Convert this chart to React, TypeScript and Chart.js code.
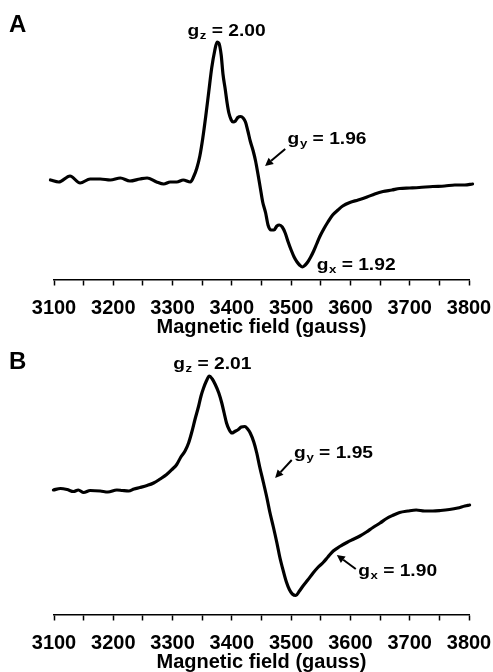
import React, { useEffect, useRef } from "react";
import { Chart, registerables } from "chart.js";

Chart.register(...registerables);

// ---- Data (magnetic field in gauss, EPR derivative signal in arbitrary units) ----
const fieldA = [3094, 3108, 3127, 3144, 3161, 3178, 3195, 3212, 3228, 3245, 3257, 3273, 3285, 3296, 3307, 3318, 3330, 3336, 3341, 3346, 3351, 3356, 3361, 3366, 3371, 3375, 3378, 3382, 3385, 3389, 3392, 3395, 3399, 3402, 3406, 3410, 3415, 3419, 3423, 3427, 3431, 3436, 3440, 3444, 3448, 3452, 3457, 3461, 3466, 3471, 3476, 3480, 3485, 3490, 3495, 3500, 3505, 3510, 3515, 3519, 3523, 3528, 3533, 3538, 3543, 3548, 3555, 3562, 3570, 3579, 3587, 3599, 3613, 3628, 3641, 3655, 3670, 3683, 3700, 3716, 3739, 3759, 3776, 3793, 3806];
const signalA = [0, -2, 4, -3, 1, 1, 0, 2, -1, 1, 2, -2, -4, -2, -2, 0, -2, 4, 12, 24, 42, 64, 88, 112, 129, 138, 137, 125, 106, 90, 77, 67, 60, 58, 59, 62.5, 63.5, 62, 58, 49, 39, 29, 19, 6, -8, -22, -33, -45, -50, -50, -46, -45, -47, -53, -62, -70, -77, -82, -85.5, -87, -85.5, -82, -77, -71, -64, -57, -49, -42, -35, -30, -26, -22.5, -20, -17, -14, -11.5, -10, -8.5, -8, -7.5, -6.5, -6, -5, -5, -4];

const fieldB = [3099, 3111, 3122, 3133, 3141, 3150, 3161, 3178, 3191, 3206, 3215, 3226, 3235, 3245, 3257, 3268, 3279, 3290, 3299, 3307, 3314, 3321, 3327, 3332, 3338, 3344, 3348, 3352, 3357, 3362, 3367, 3372, 3378, 3383, 3387, 3391, 3395, 3400, 3405, 3411, 3416, 3422, 3426, 3431, 3437, 3442, 3447, 3453, 3459, 3464, 3470, 3476, 3481, 3487, 3492, 3497, 3502, 3508, 3514, 3520, 3528, 3537, 3545, 3554, 3562, 3571, 3582, 3594, 3604, 3616, 3627, 3638, 3650, 3661, 3671, 3683, 3697, 3711, 3725, 3739, 3752, 3767, 3781, 3793, 3801];
const signalB = [0, 1.5, 0.5, -1.5, 0, -2.5, -0.5, -1, -2, 0, -0.5, -1, 1, 2.5, 4.5, 7, 11, 15.5, 20.5, 25.5, 33, 39, 47, 57, 71, 84, 94, 101.5, 109, 114, 111, 105.5, 97, 87, 77, 67, 61, 57, 58.5, 60.5, 63, 63.5, 61.5, 57, 48, 37, 23, 8, -7.5, -22, -37, -53, -67.5, -81.5, -92, -99.5, -104, -105.5, -101, -96, -90, -83, -77.5, -72.5, -67, -61, -56.5, -52.5, -49.5, -46, -42, -37.5, -33, -28.5, -25.5, -22.5, -21, -20, -21, -21, -20.5, -19.5, -18, -16, -15];

const tickValues = [3100, 3150, 3200, 3250, 3300, 3350, 3400, 3450, 3500, 3550, 3600, 3650, 3700, 3750, 3800];
const tickLabels = ["3100", "", "3200", "", "3300", "", "3400", "", "3500", "", "3600", "", "3700", "", "3800"];
const axisTitle = "Magnetic field (gauss)";

// g-value annotations: subscript, value, anchor (field, signal)
const gSubsA = ["z", "y", "x"];
const gValuesA = ["2.00", "1.96", "1.92"];
const gFieldA = [3325, 3494, 3543];
const gSignalA = [144, 36, -90];
const arrowsA = [{ from: [3490, 31], to: [3456, 14] }];

const gSubsB = ["z", "y", "x"];
const gValuesB = ["2.01", "1.95", "1.90"];
const gFieldB = [3301, 3505, 3613];
const gSignalB = [121, 32, -86];
const arrowsB = [
  { from: [3501, 30], to: [3473, 12] },
  { from: [3609, -79], to: [3577, -65] },
];

const FONT = '"Liberation Sans", Arial, Helvetica, sans-serif';

function drawArrow(ctx: CanvasRenderingContext2D, x1: number, y1: number, x2: number, y2: number) {
  const ang = Math.atan2(y2 - y1, x2 - x1);
  const L = 8;
  const W = 4;
  const bx = x2 - L * Math.cos(ang);
  const by = y2 - L * Math.sin(ang);
  ctx.save();
  ctx.strokeStyle = "#000";
  ctx.fillStyle = "#000";
  ctx.lineWidth = 2;
  ctx.beginPath();
  ctx.moveTo(x1, y1);
  ctx.lineTo(bx, by);
  ctx.stroke();
  ctx.beginPath();
  ctx.moveTo(x2, y2);
  ctx.lineTo(bx + W * Math.sin(ang), by - W * Math.cos(ang));
  ctx.lineTo(bx - W * Math.sin(ang), by + W * Math.cos(ang));
  ctx.closePath();
  ctx.fill();
  ctx.restore();
}

function drawGLabel(ctx: CanvasRenderingContext2D, px: number, py: number, sub: string, val: string) {
  ctx.save();
  ctx.translate(px, py);
  ctx.scale(1.2, 1);
  ctx.fillStyle = "#000";
  ctx.textAlign = "left";
  ctx.textBaseline = "alphabetic";
  const main = `bold 16px ${FONT}`;
  const small = `bold 11px ${FONT}`;
  ctx.font = main;
  ctx.fillText("g", 0, 0);
  let w = ctx.measureText("g").width;
  ctx.font = small;
  ctx.fillText(sub, w + 0.5, 3);
  w += ctx.measureText(sub).width + 0.5;
  ctx.font = main;
  ctx.fillText(" = " + val, w, 0);
  ctx.restore();
}

type PanelProps = {
  letter: string;
  field: number[];
  signal: number[];
  yMin: number;
  yMax: number;
  subs: string[];
  values: string[];
  gField: number[];
  gSignal: number[];
  arrows: { from: number[]; to: number[] }[];
  height: number;
};

function Panel(props: PanelProps) {
  const ref = useRef<HTMLCanvasElement>(null);
  useEffect(() => {
    const { letter, field, signal, yMin, yMax, subs, values, gField, gSignal, arrows } = props;
    const annot = {
      id: "annot",
      afterDatasetsDraw(chart: any) {
        const ctx = chart.ctx as CanvasRenderingContext2D;
        const xs = chart.scales.x;
        const ys = chart.scales.y;
        ctx.save();
        ctx.fillStyle = "#000";
        ctx.font = `bold 24px ${FONT}`;
        ctx.textAlign = "left";
        ctx.textBaseline = "alphabetic";
        ctx.fillText(letter, 9, 32);
        ctx.restore();
        subs.forEach((s, i) => {
          drawGLabel(ctx, xs.getPixelForValue(gField[i]), ys.getPixelForValue(gSignal[i]), s, values[i]);
        });
        arrows.forEach((a) => {
          drawArrow(
            ctx,
            xs.getPixelForValue(a.from[0]),
            ys.getPixelForValue(a.from[1]),
            xs.getPixelForValue(a.to[0]),
            ys.getPixelForValue(a.to[1])
          );
        });
      },
    };
    const chart = new Chart(ref.current as HTMLCanvasElement, {
      type: "line",
      data: {
        datasets: [
          {
            data: field.map((x, i) => ({ x, y: signal[i] })),
            borderColor: "#000",
            borderWidth: 3.2,
            pointRadius: 0,
            fill: false,
            cubicInterpolationMode: "monotone",
            borderJoinStyle: "round",
            borderCapStyle: "round",
            clip: false,
          } as any,
        ],
      },
      options: {
        animation: false,
        responsive: false,
        maintainAspectRatio: false,
        events: [],
        layout: { padding: { left: 54, right: 24, top: 0, bottom: 0 } },
        plugins: { legend: { display: false }, tooltip: { enabled: false } },
        scales: {
          x: {
            type: "linear",
            position: "bottom",
            min: 3100,
            max: 3800,
            afterBuildTicks: (s: any) => {
              s.ticks = tickValues.map((v) => ({ value: v }));
            },
            ticks: {
              autoSkip: false,
              maxRotation: 0,
              minRotation: 0,
              padding: 1,
              color: "#000",
              font: { family: FONT, size: 20, weight: "bold", lineHeight: 2.2 },
              callback: (v: any) => {
                const idx = tickValues.indexOf(Number(v));
                return idx >= 0 ? tickLabels[idx] : "";
              },
            },
            grid: {
              display: true,
              drawOnChartArea: false,
              drawTicks: true,
              tickLength: 6,
              tickWidth: 1.5,
              tickColor: "#000",
            },
            border: { display: true, color: "#000", width: 1.5 },
            title: {
              display: true,
              text: axisTitle,
              color: "#000",
              font: { family: FONT, size: 20, weight: "bold", lineHeight: 1 },
              padding: { top: -14.5, bottom: 0 },
            },
          },
          y: { display: false, min: yMin, max: yMax },
        },
      } as any,
      plugins: [annot],
    });
    return () => chart.destroy();
  }, []);
  return (
    <canvas
      ref={ref}
      width={493}
      height={props.height}
      style={{ display: "block", width: 493, height: props.height }}
    />
  );
}

export default function App() {
  return (
    <div style={{ position: "absolute", left: 0, top: 0, width: 493, height: 672, background: "#fff" }}>
      <Panel
        letter="A"
        field={fieldA}
        signal={signalA}
        yMin={-99.5}
        yMax={180}
        subs={gSubsA}
        values={gValuesA}
        gField={gFieldA}
        gSignal={gSignalA}
        arrows={arrowsA}
        height={337}
      />
      <Panel
        letter="B"
        field={fieldB}
        signal={signalB}
        yMin={-124.5}
        yMax={153}
        subs={gSubsB}
        values={gValuesB}
        gField={gFieldB}
        gSignal={gSignalB}
        arrows={arrowsB}
        height={335}
      />
    </div>
  );
}
